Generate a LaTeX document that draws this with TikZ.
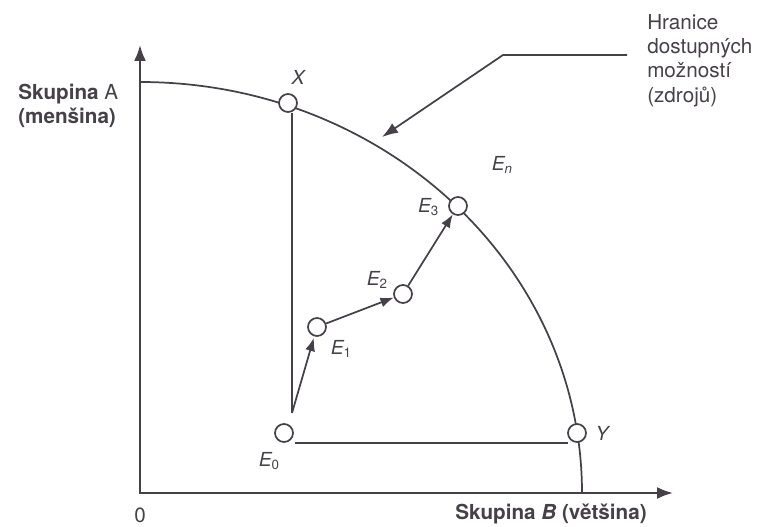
\documentclass[tikz,border=0pt]{standalone}
\usepackage{fontspec}
\setmainfont{TeX Gyre Heros}
\usetikzlibrary{arrows.meta}
\definecolor{tisk}{RGB}{70,64,72}
\newcommand{\dolni}[1]{\raisebox{-2.6pt}{\fontsize{10}{11}\selectfont\upshape#1}}

\begin{document}
\begin{tikzpicture}[
    x=0.75pt,y=0.75pt,
    osa/.style={draw=tisk,line width=1.6pt,{Latex[length=12pt,width=9pt]}-{Latex[length=12pt,width=9pt]}},
    krivka/.style={draw=tisk,line width=1.3pt},
    spoj/.style={draw=tisk,line width=1.3pt},
    sipka/.style={spoj,-{Latex[length=10pt,width=7.5pt]}},
    vodic/.style={spoj,-{Latex[length=12pt,width=8.5pt]}},
    bod/.style={circle,draw=tisk,fill=white,line width=1.3pt,inner sep=0pt,minimum size=13.5pt},
    popis/.style={text=tisk,font=\fontsize{14.5}{17}\selectfont\itshape,inner sep=1pt},
    skupina/.style={text=tisk,font=\fontsize{15.5}{18}\selectfont\bfseries,inner sep=0pt,align=left},
    poznamka/.style={text=tisk,font=\fontsize{15.5}{18.2}\selectfont,inner sep=0pt,align=left}]

  \useasboundingbox (0,0) rectangle (760,526);

  % ---- souradnice ------------------------------------------------------
  \coordinate (yk)  at (140,481);   % hrot osy A
  \coordinate (xk)  at (673, 33);   % hrot osy B
  \coordinate (hz)  at (140,444);   % zacatek hranice na ose A

  \coordinate (piv) at (292,113);   % odtud vychazi svisla cara i prvni krok
  \coordinate (hk)  at (627,471);   % konec odkazu na hranici
  \coordinate (hl)  at (503,471);   % zlom odkazu
  \coordinate (hs)  at (382,389);   % hrot odkazu na krivce

  % ---- osy a hranice ---------------------------------------------------
  \draw[osa] (yk) |- (xk);
  \draw[krivka] (hz) arc[start angle=90,end angle=0,x radius=442,y radius=411];

  % ---- body ------------------------------------------------------------
  \node[bod] (X)  at (288,423) {};
  \node[bod] (E0) at (284, 93) {};
  \node[bod] (E1) at (317,199) {};
  \node[bod] (E2) at (403,232) {};
  \node[bod] (E3) at (458,320) {};
  \node[bod] (Y)  at (577, 93) {};

  % ---- spoje -----------------------------------------------------------
  \draw[spoj] (X.south -| piv) -- (piv);
  \draw[spoj,shorten <=8pt,shorten >=7pt] (E0.south) -- (Y.south);

  % kroky E0 -> E1 -> E2 -> E3
  \draw[sipka,shorten >=1pt] (piv) -- (E1);
  \draw[sipka] (E1) -- (E2);
  \draw[sipka] (E2) -- (E3);

  % odkaz na hranici dostupnych moznosti
  \draw[vodic] (hk) -- (hl) -- (hs);

  % ---- popisky ---------------------------------------------------------
  \node[popis] (lX)  at (298,449) {X};
  \node[popis] (lY)  at (602, 93) {Y};
  \node[popis] (lEn) at (502,361) {E\dolni{\itshape n}};
  \node[popis,anchor=east] (lE3) at (440,319) {E\dolni{3}};
  \node[popis] (lE2) at (377,246) {E\dolni{2}};
  \node[popis] (lE1) at (341,177) {E\dolni{1}};
  \node[popis] (lE0) at (269, 65) {E\dolni{0}};

  \node[poznamka,anchor=north west] (hr) at (647,512)
    {Hranice\\dostupných\\možností\\(zdrojů)};

  \node[skupina,anchor=north west] (sA) at (18,442)
    {Skupina {\mdseries A}\\(menšina)};
  \node[skupina,anchor=base west] (sB) at (455,7)
    {Skupina \textit{B} (většina)};
  \node[text=tisk,font=\fontsize{15.5}{18}\selectfont,anchor=base,inner sep=0pt] (nula) at (140,4) {0};

\end{tikzpicture}
\end{document}
